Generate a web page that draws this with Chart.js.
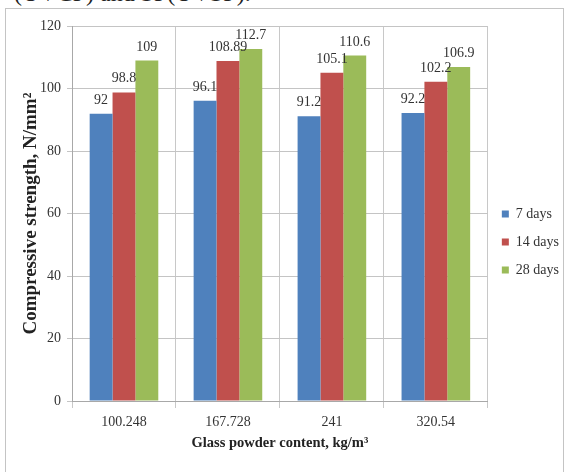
<!DOCTYPE html>
<html>
<head>
<meta charset="utf-8">
<script src="https://cdn.jsdelivr.net/npm/chart.js@4.4.1/dist/chart.umd.min.js"></script>
<style>
    html, body { margin: 0; padding: 0; background: #fff; overflow: hidden; }
    #caption {
        position: absolute; left: 14px; top: -19px;
        font: 24px/24px "Liberation Serif", serif; color: #222; white-space: nowrap;
    }
    #frame {
        position: absolute; left: 5px; top: 8px; width: 557px; height: 480px;
        border: 1px solid #c4c4c4;
    }
    #wrap { position: absolute; left: 0; top: 0; width: 565px; height: 472px; }
</style>
</head>
<body>
<div id="caption">(UVCP) and SF(UVSF).</div>
<div id="frame"></div>
<div id="wrap"><canvas id="chart"></canvas></div>
<script>
const categories = ['100.248', '167.728', '241', '320.54'];
const seriesNames = ['7 days', '14 days', '28 days'];
const days7 = [92, 96.1, 91.2, 92.2];
const days14 = [98.8, 108.89, 105.1, 102.2];
const days28 = [109, 112.7, 110.6, 106.9];
const yTicks = [0, 20, 40, 60, 80, 100, 120];

const colors = ['#4f81bd', '#c0504d', '#9bbb59'];
const serif = '"Liberation Serif", "Times New Roman", serif';
const textColor = '#333';

// value labels above each bar
const valueLabels = {
    id: 'valueLabels',
    afterDatasetsDraw(chart) {
        let ctx = chart.ctx;
        ctx.save();
        ctx.font = '14px ' + serif;
        ctx.fillStyle = textColor;
        ctx.textAlign = 'center';
        ctx.textBaseline = 'alphabetic';
        chart.data.datasets.forEach((ds, i) => {
            chart.getDatasetMeta(i).data.forEach((bar, j) => {
                ctx.fillText(String(ds.data[j]), bar.x, bar.y - 10);
            });
        });
        ctx.restore();
    }
};

new Chart(document.getElementById('chart'), {
    type: 'bar',
    data: {
        labels: categories,
        datasets: [days7, days14, days28].map((values, i) => ({
            label: seriesNames[i],
            data: values,
            backgroundColor: colors[i],
            borderWidth: 0,
            categoryPercentage: 0.66,
            barPercentage: 1
        }))
    },
    options: {
        responsive: true,
        maintainAspectRatio: false,
        animation: false,
        layout: { padding: { left: 0, right: -4, top: 12, bottom: 0 } },
        plugins: {
            tooltip: { enabled: false },
            // empty spacer above the plot only, so the legend keeps the full height
            title: {
                display: true,
                text: '',
                fullSize: false,
                font: { size: 1 },
                padding: { top: 13, bottom: 0 }
            },
            legend: {
                position: 'right',
                labels: {
                    font: { family: serif, size: 14 },
                    color: textColor,
                    boxWidth: 7,
                    boxHeight: 7,
                    padding: 14
                }
            }
        },
        scales: {
            x: {
                grid: { color: '#c8c8c8', offset: true, tickLength: 7 },
                border: { color: '#a8a8a8' },
                ticks: { font: { family: serif, size: 14 }, color: textColor, padding: 6 },
                title: {
                    display: true,
                    text: 'Glass powder content, kg/m³',
                    font: { family: serif, size: 14.5, weight: 'bold' },
                    color: '#222',
                    padding: { top: 0, bottom: 20 }
                },
                afterFit: (scale) => { scale.height = 71; }
            },
            y: {
                min: 0,
                max: 120,
                afterBuildTicks: (scale) => { scale.ticks = yTicks.map(v => ({ value: v })); },
                grid: { color: '#c4c4c4', tickLength: 5 },
                border: { color: '#a8a8a8' },
                ticks: { font: { family: serif, size: 14 }, color: textColor, padding: 6 },
                title: {
                    display: true,
                    text: 'Compressive strength, N/mm²',
                    font: { family: serif, size: 19, weight: 'bold' },
                    color: '#222',
                    padding: { top: 20, bottom: 0 }
                },
                afterFit: (scale) => { scale.width = 72; }
            }
        }
    },
    plugins: [valueLabels]
});
</script>
</body>
</html>
